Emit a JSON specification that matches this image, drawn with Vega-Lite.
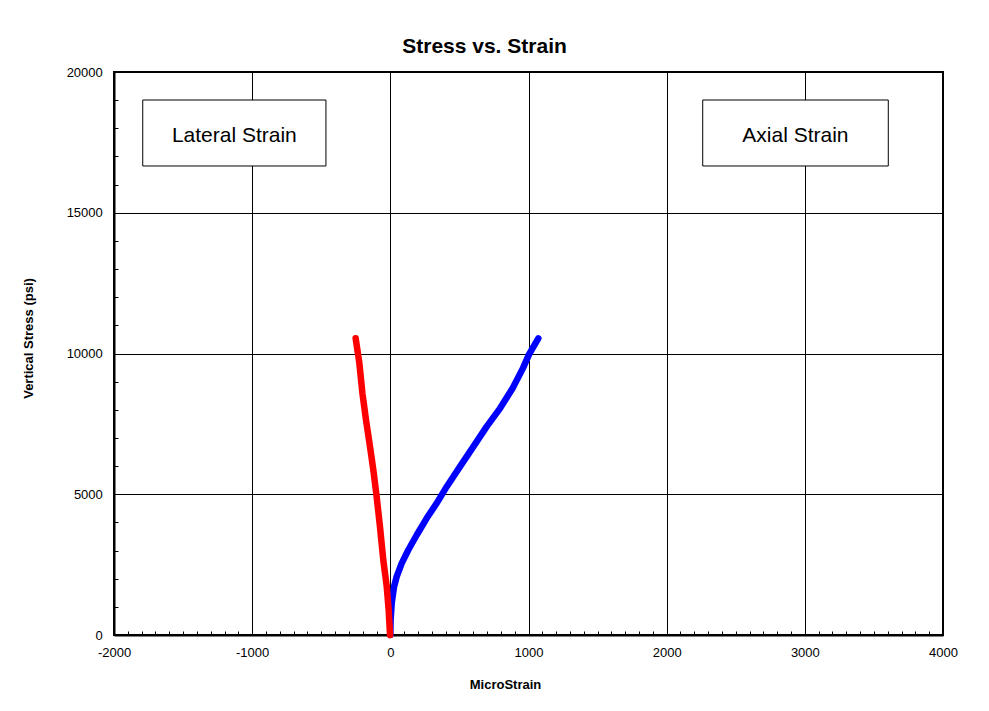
{
  "$schema": "https://vega.github.io/schema/vega-lite/v6.json",
  "width": 829,
  "height": 563,
  "autosize": {"type": "none"},
  "padding": {"left": 114, "top": 72, "right": 46, "bottom": 76},
  "background": "white",
  "title": {
    "text": "Stress vs. Strain",
    "anchor": "middle",
    "frame": "group",
    "dx": -44,
    "dy": 27,
    "offset": 19,
    "baseline": "alphabetic",
    "font": "Liberation Sans",
    "fontSize": 21,
    "fontWeight": "bold",
    "color": "black"
  },
  "config": {
    "view": {"stroke": "black", "strokeWidth": 2},
    "font": "Liberation Sans",
    "axis": {
      "labelFont": "Liberation Sans",
      "labelFontSize": 13,
      "labelColor": "black",
      "titleFont": "Liberation Sans",
      "titleFontSize": 13,
      "titleFontWeight": "bold",
      "titleColor": "black",
      "domainColor": "black",
      "domainWidth": 2,
      "tickColor": "black",
      "tickWidth": 1,
      "tickSize": -4,
      "gridColor": "black",
      "gridWidth": 1,
      "labelOverlap": false,
      "labelFlush": false,
      "labelPadding": 15.7
    }
  },
  "datasets": {
    "lateral": [
      {"strain": -2, "stress": 0},
      {"strain": -12, "stress": 888},
      {"strain": -26, "stress": 1717},
      {"strain": -51, "stress": 2664},
      {"strain": -75, "stress": 3848},
      {"strain": -99, "stress": 4914},
      {"strain": -123, "stress": 5861},
      {"strain": -147, "stress": 6690},
      {"strain": -176, "stress": 7638},
      {"strain": -202, "stress": 8585},
      {"strain": -224, "stress": 9651},
      {"strain": -251, "stress": 10539}
    ],
    "axial": [
      {"strain": 0, "stress": 0},
      {"strain": 2, "stress": 533},
      {"strain": 10, "stress": 1125},
      {"strain": 27, "stress": 1717},
      {"strain": 46, "stress": 2072},
      {"strain": 82, "stress": 2546},
      {"strain": 130, "stress": 3020},
      {"strain": 191, "stress": 3552},
      {"strain": 263, "stress": 4145},
      {"strain": 335, "stress": 4678},
      {"strain": 408, "stress": 5269},
      {"strain": 504, "stress": 5980},
      {"strain": 601, "stress": 6690},
      {"strain": 697, "stress": 7401},
      {"strain": 794, "stress": 8052},
      {"strain": 885, "stress": 8763},
      {"strain": 960, "stress": 9480},
      {"strain": 1004, "stress": 9970},
      {"strain": 1071, "stress": 10539}
    ],
    "boxes": [
      {"label": "Lateral Strain", "x1": -1792, "x2": -466, "xm": -1129, "y1": 16661, "y2": 19005, "ym": 17720},
      {"label": "Axial Strain", "x1": 2261, "x2": 3604, "xm": 2932, "y1": 16661, "y2": 19005, "ym": 17720}
    ]
  },
  "layer": [
    {
      "data": {"name": "boxes"},
      "mark": {"type": "rect", "fill": "white", "stroke": "black", "strokeWidth": 1},
      "encoding": {
        "x": {
          "field": "x1",
          "type": "quantitative",
          "scale": {"domain": [-2000, 4000], "nice": false, "zero": false},
          "axis": {
            "title": "MicroStrain",
            "values": [-2000,-1900,-1800,-1700,-1600,-1500,-1400,-1300,-1200,-1100,-1000,-900,-800,-700,-600,-500,-400,-300,-200,-100,0,100,200,300,400,500,600,700,800,900,1000,1100,1200,1300,1400,1500,1600,1700,1800,1900,2000,2100,2200,2300,2400,2500,2600,2700,2800,2900,3000,3100,3200,3300,3400,3500,3600,3700,3800,3900,4000],
            "tickCount": 200,
            "labelExpr": "datum.value % 1000 === 0 ? '' + datum.value : ''",
            "grid": true,
            "gridOpacity": {"condition": {"test": "datum.value % 1000 === 0", "value": 1}, "value": 0},
            "titleX": 391,
            "titleY": 53.3,
            "titleAlign": "center",
            "titleBaseline": "alphabetic"
          }
        },
        "x2": {"field": "x2"},
        "y": {
          "field": "y1",
          "type": "quantitative",
          "scale": {"domain": [0, 20000], "nice": false, "zero": false},
          "axis": {
            "title": "Vertical Stress (psi)",
            "values": [0,1000,2000,3000,4000,5000,6000,7000,8000,9000,10000,11000,12000,13000,14000,15000,16000,17000,18000,19000,20000],
            "tickCount": 100,
            "labelExpr": "datum.value % 5000 === 0 ? '' + datum.value : ''",
            "grid": true,
            "gridOpacity": {"condition": {"test": "datum.value % 5000 === 0", "value": 1}, "value": 0},
            "titleX": -81.3,
            "titleY": 266,
            "titleAngle": -90,
            "titleAlign": "center",
            "titleBaseline": "alphabetic"
          }
        },
        "y2": {"field": "y2"}
      }
    },
    {
      "data": {"name": "boxes"},
      "mark": {"type": "text", "font": "Liberation Sans", "fontSize": 21, "color": "black", "align": "center", "baseline": "middle"},
      "encoding": {
        "x": {"field": "xm", "type": "quantitative"},
        "y": {"field": "ym", "type": "quantitative"},
        "text": {"field": "label"}
      }
    },
    {
      "data": {"name": "axial"},
      "mark": {"type": "line", "color": "#0000FF", "strokeWidth": 6.5, "strokeCap": "round", "strokeJoin": "round"},
      "encoding": {
        "x": {"field": "strain", "type": "quantitative"},
        "y": {"field": "stress", "type": "quantitative"},
        "order": {"field": "stress"}
      }
    },
    {
      "data": {"name": "lateral"},
      "mark": {"type": "line", "color": "#FF0000", "strokeWidth": 6.5, "strokeCap": "round", "strokeJoin": "round"},
      "encoding": {
        "x": {"field": "strain", "type": "quantitative"},
        "y": {"field": "stress", "type": "quantitative"},
        "order": {"field": "stress"}
      }
    }
  ]
}
